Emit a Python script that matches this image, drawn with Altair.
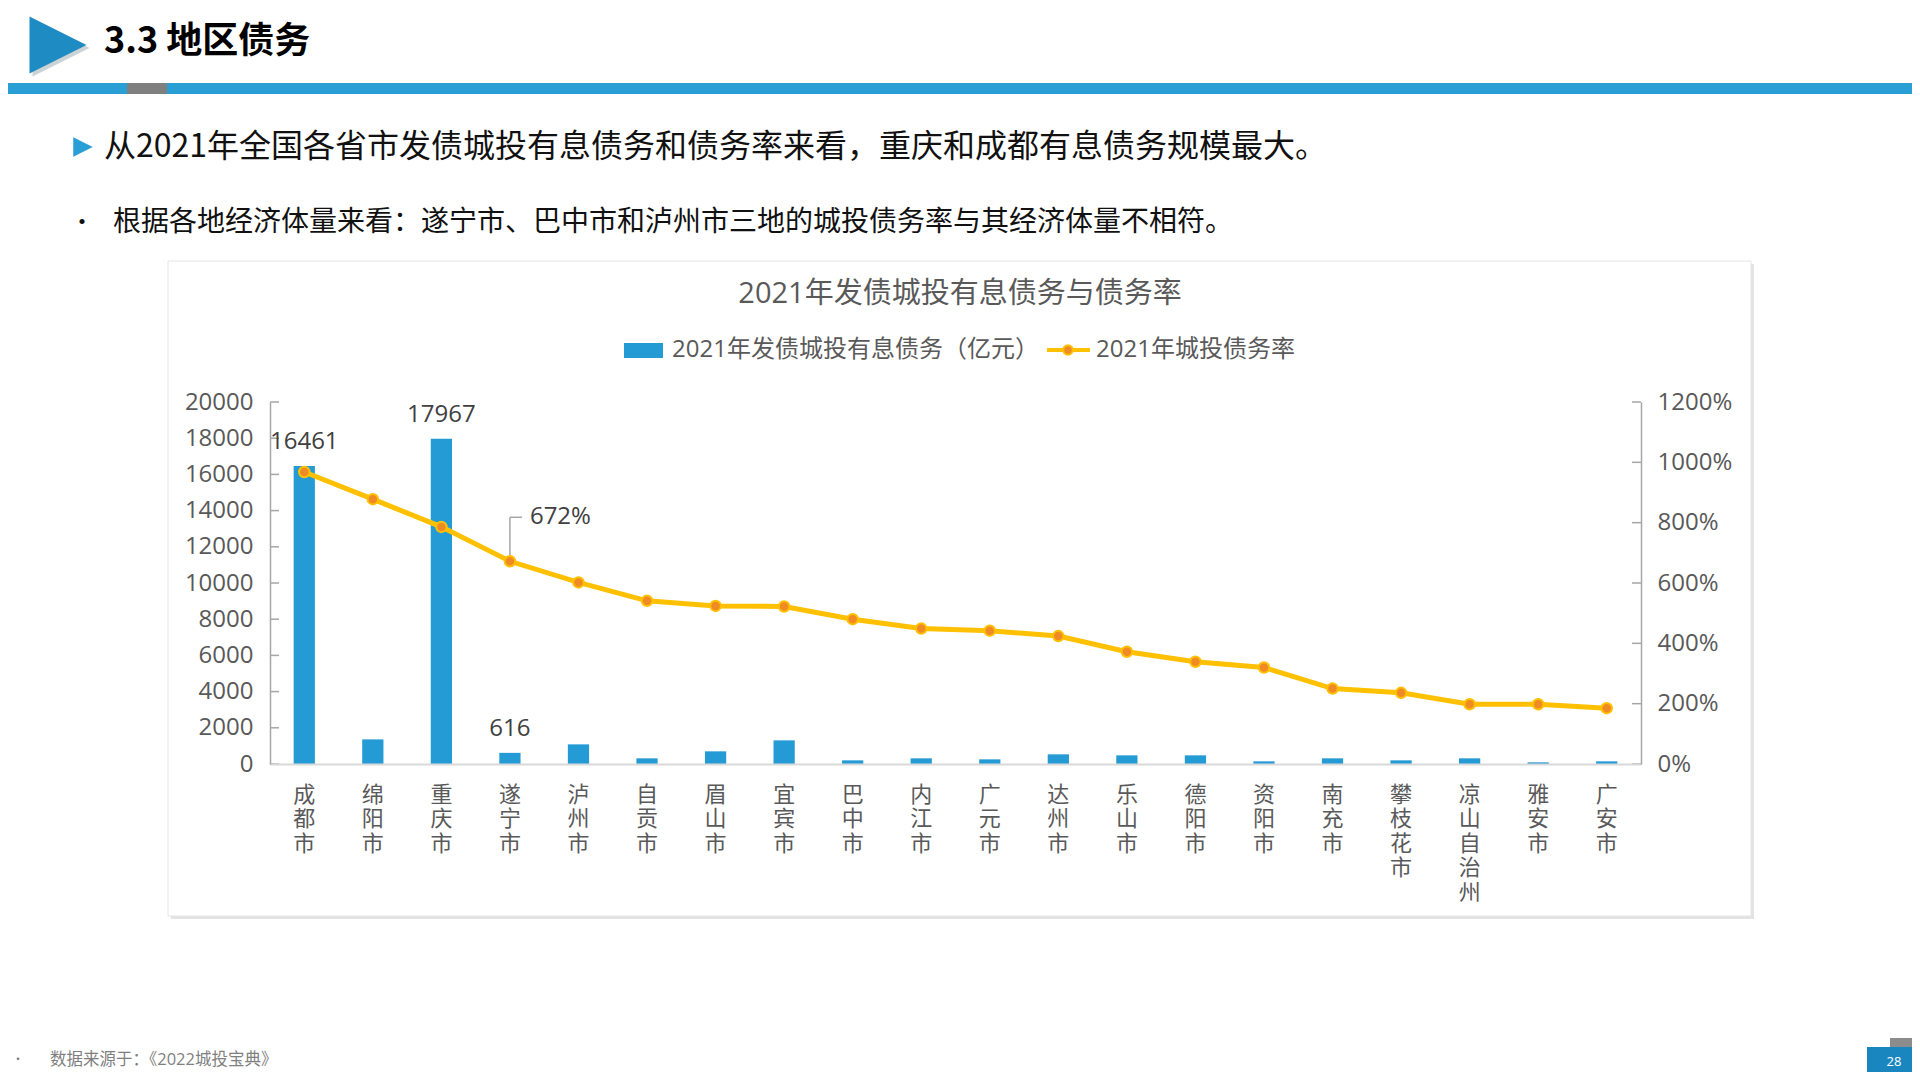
import altair as alt
import pandas as pd

# ---------------- data ----------------
cats = ["成都市", "绵阳市", "重庆市", "遂宁市", "泸州市", "自贡市", "眉山市", "宜宾市",
        "巴中市", "内江市", "广元市", "达州市", "乐山市", "德阳市", "资阳市", "南充市",
        "攀枝花市", "凉山自治州", "雅安市", "广安市"]
debt = [16461, 1360, 17967, 616, 1085, 313, 700, 1306, 202, 313,
        258, 534, 478, 478, 147, 313, 202, 313, 92, 147]
rate = [968, 878, 786, 672, 602, 541, 524, 522, 480, 449,
        442, 424, 372, 339, 320, 250, 236, 198, 198, 185]
left_ticks = list(range(0, 20001, 2000))
right_ticks = list(range(0, 1201, 200))
labeled_debt = ["成都市", "重庆市", "遂宁市"]
labeled_rate = ["遂宁市"]

title_text = "2021年发债城投有息债务与债务率"
legend_bar = "2021年发债城投有息债务（亿元）"
legend_line = "2021年城投债务率"
header_text = "3.3 地区债务"
line1_text = "从2021年全国各省市发债城投有息债务和债务率来看，重庆和成都有息债务规模最大。"
line2_text = "根据各地经济体量来看：遂宁市、巴中市和泸州市三地的城投债务率与其经济体量不相符。"
footer_text = "数据来源于：《2022城投宝典》"
page_no = "28"

# ---------------- layout / style ----------------
W, H = 1371, 362          # plot area
OX, OY = 270, 402         # page position of plot origin
PAD_L, PAD_T = OX - 8, OY - 8
PAD_R = 1904 - PAD_L - W
PAD_B = 1064 - PAD_T - H


def X(p):
    return p - OX


def Y(p):
    return p - OY


FONT = "'Open Sans', 'Noto Sans CJK SC', sans-serif"
CJK = "'Noto Sans CJK SC', sans-serif"
BAR_C = "#259BD6"
LINE_C = "#FFC000"
DOT_C = "#F08A24"
TXT_C = "#595959"
AX_C = "#A6A6A6"

df = pd.DataFrame({"cat": cats, "debt": debt, "rate": rate})
df_lab = df[df["cat"].isin(labeled_debt)]
df_rlab = df[df["cat"].isin(labeled_rate)]
one = alt.Data(values=[{"k": 0}])

xenc = alt.X(
    "cat:N", sort=cats,
    scale=alt.Scale(paddingInner=0.69, paddingOuter=0.345),
    axis=alt.Axis(title=None, labelAngle=0, ticks=False, tickSize=0,
                  labelExpr="split(datum.label, '')", labelLineHeight=24.5,
                  labelBaseline="top", labelPadding=20, labelFontSize=22,
                  labelColor=TXT_C, labelFont=CJK, domainColor="#D9D9D9",
                  domainWidth=2, grid=False, zindex=1),
)

lscale = alt.Scale(domain=[0, 20000], nice=False, zero=True)
rscale = alt.Scale(domain=[0, 1200], nice=False, zero=True)

bars = alt.Chart(df).mark_bar(color=BAR_C).encode(
    x=xenc,
    y=alt.Y("debt:Q", scale=lscale,
            axis=alt.Axis(orient="left", values=left_ticks, format="d", title=None,
                          ticks=False, tickSize=0, labelPadding=17, grid=False,
                          domainColor=AX_C, domainWidth=1.5, labelFontSize=24,
                          labelColor=TXT_C, labelFont=FONT, zindex=1)),
)

bar_labels = alt.Chart(df_lab).mark_text(
    dy=-17, baseline="alphabetic", align="center", fontSize=24, font=FONT, color="#404040"
).encode(x=xenc, y=alt.Y("debt:Q", scale=lscale, axis=None), text=alt.Text("debt:Q", format="d"))

lticks = alt.Chart(pd.DataFrame({"v": left_ticks})).mark_rule(color=AX_C, strokeWidth=1.5).encode(
    y=alt.Y("v:Q", scale=lscale, axis=None), x=alt.value(0), x2=alt.value(9))

line = alt.Chart(df).mark_line(color=LINE_C, strokeWidth=5).encode(
    x=xenc,
    y=alt.Y("rate:Q", scale=rscale,
            axis=alt.Axis(orient="right", values=right_ticks, labelExpr="datum.value + '%'",
                          title=None, ticks=False, tickSize=0, labelPadding=16, grid=False,
                          domainColor=AX_C, domainWidth=1.5, labelFontSize=24,
                          labelColor=TXT_C, labelFont=FONT, zindex=1)),
)

leader_v = alt.Chart(df_rlab).mark_rule(color=AX_C, strokeWidth=1.5, y2Offset=-44).encode(
    x=xenc, y=alt.Y("rate:Q", scale=rscale, axis=None), y2=alt.Y2("rate:Q"))
leader_h = alt.Chart(df_rlab).mark_rule(color=AX_C, strokeWidth=1.5, yOffset=-44, y2Offset=-44,
                                        x2Offset=12).encode(
    x=xenc, x2=alt.X2("cat:N"), y=alt.Y("rate:Q", scale=rscale, axis=None), y2=alt.Y2("rate:Q"))

points = alt.Chart(df).mark_point(filled=True, fill=DOT_C, stroke=LINE_C, strokeWidth=2,
                                  size=110, opacity=1).encode(
    x=xenc, y=alt.Y("rate:Q", scale=rscale, axis=None))

rate_label = alt.Chart(df_rlab).transform_calculate(lbl="datum.rate + '%'").mark_text(
    dx=20, dy=-44, align="left", baseline="middle", fontSize=24, font=FONT, color="#404040"
).encode(x=xenc, y=alt.Y("rate:Q", scale=rscale, axis=None), text="lbl:N")

rticks = alt.Chart(pd.DataFrame({"v": right_ticks})).mark_rule(color=AX_C, strokeWidth=1.5).encode(
    y=alt.Y("v:Q", scale=rscale, axis=None), x=alt.value(W - 9), x2=alt.value(W))


# ---------------- decorations ----------------
def rect(x1, x2, y1, y2, **kw):
    return alt.Chart(one).mark_rect(**kw).encode(
        x=alt.value(X(x1)), x2=alt.value(X(x2)), y=alt.value(Y(y1)), y2=alt.value(Y(y2)))


def text(t, x, y, **kw):
    return alt.Chart(one).mark_text(text=t, baseline="middle", **kw).encode(
        x=alt.value(X(x)), y=alt.value(Y(y)))


def sym(x, y, size, opacity=1, **kw):
    return alt.Chart(one).mark_point(filled=True, opacity=opacity, **kw).encode(
        x=alt.value(X(x)), y=alt.value(Y(y)), size=alt.value(size))


TRI = "M-1,-1L1,0L-1,1Z"

deco_back = [
    rect(171, 1754, 264, 919, fill="#E3E3E3"),
    rect(168, 1751, 261, 916, fill="white", stroke="#E6E6E6", strokeWidth=1),
    rect(8, 1912, 83, 94, fill="#2A9FD6"),
    rect(127, 167, 83, 94, fill="#7F7F7F"),
    sym(61, 48, 3249, shape=TRI, fill="#9AA7B0", opacity=0.5),
    sym(58, 45, 3249, shape=TRI, fill="#1E8BC3"),
    text(header_text, 104, 42, align="left", fontSize=36, fontWeight="bold", font=CJK, color="#000000"),
    sym(83, 147, 380, shape=TRI, fill="#2A9FD6"),
    text(line1_text, 104, 147, align="left", fontSize=32, font=CJK, color="#111111"),
    text("•", 70, 223, align="left", fontSize=24, font=CJK, color="#111111"),
    text(line2_text, 113, 223, align="left", fontSize=28, font=CJK, color="#111111"),
    text(title_text, 960, 294, align="center", fontSize=29, font=FONT, color=TXT_C),
    rect(624, 663, 343, 358, fill=BAR_C),
    text(legend_bar, 672, 350, align="left", fontSize=24, font=FONT, color=TXT_C),
    alt.Chart(one).mark_rule(color=LINE_C, strokeWidth=4).encode(
        x=alt.value(X(1047)), x2=alt.value(X(1090)), y=alt.value(Y(350))),
    sym(1068, 350, 90, shape="circle", fill=DOT_C, stroke=LINE_C, strokeWidth=2),
    text(legend_line, 1096, 350, align="left", fontSize=24, font=FONT, color=TXT_C),
    text("•", 12, 1060, align="left", fontSize=12, font=CJK, color="#7F7F7F"),
    text(footer_text, 50, 1060, align="left", fontSize=16.5, font=FONT, color="#7F7F7F"),
    rect(1890, 1912, 1038, 1047, fill="#8C8C8C"),
    rect(1867, 1912, 1047, 1072, fill="#1A86BF"),
    text(page_no, 1894, 1062, align="center", fontSize=13, font=FONT, color="white"),
]

chart = alt.layer(
    *deco_back, bars, lticks, bar_labels, line, leader_v, leader_h, points, rate_label, rticks
).resolve_scale(y="independent").properties(
    width=W, height=H,
    autosize=alt.AutoSizeParams(type="none"),
    padding={"left": PAD_L, "top": PAD_T, "right": PAD_R, "bottom": PAD_B},
    background="white",
).configure_view(stroke=None)

chart.save("out.html", embed_options={"renderer": "svg", "actions": False})
